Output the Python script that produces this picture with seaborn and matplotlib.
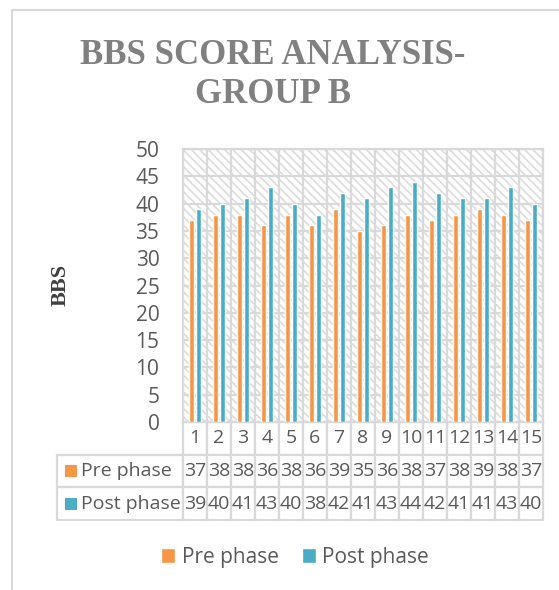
import matplotlib
matplotlib.use('Agg')
import matplotlib.pyplot as plt
import seaborn as sns
import pandas as pd
import numpy as np
from matplotlib.patches import Rectangle
from matplotlib.table import Table

participants = list(range(1, 16))
pre_phase = [37, 38, 38, 36, 38, 36, 39, 35, 36, 38, 37, 38, 39, 38, 37]
post_phase = [39, 40, 41, 43, 40, 38, 42, 41, 43, 44, 42, 41, 41, 43, 40]
series = ['Pre phase', 'Post phase']
colors = {'Pre phase': '#F79646', 'Post phase': '#4BACC6'}

df = pd.DataFrame({
    'participant': participants * 2,
    'phase': ['Pre phase'] * 15 + ['Post phase'] * 15,
    'BBS': pre_phase + post_phase,
})

sns.set_style('white')
plt.rcParams['font.family'] = ['Open Sans', 'DejaVu Sans']
grey = '#595959'
line_grey = '#D9D9D9'
fs = 14

W, H = 559, 590
fig = plt.figure(figsize=(W / 100, H / 100), dpi=100)
ax_l, ax_r, ax_t, ax_b = 183, 543, 149, 422
ax = fig.add_axes([ax_l / W, 1 - ax_b / H, (ax_r - ax_l) / W, (ax_b - ax_t) / H])

# hatched plot background
plt.rcParams['hatch.linewidth'] = 1.2
ax.add_patch(Rectangle((0, 0), 1, 1, transform=ax.transAxes, facecolor='white',
                       edgecolor='#DCDCDC', hatch='\\\\\\\\', lw=0, zorder=0))

sns.barplot(data=df, x='participant', y='BBS', hue='phase', hue_order=series,
            palette=colors, width=0.58, gap=0.2, ax=ax, legend=True,
            saturation=1, zorder=3)

ax.set_ylim(0, 50)
ax.set_yticks(range(0, 51, 5))
ax.set_xlim(-0.5, 14.5)
ax.set_xticks([])
ax.set_xticks(np.arange(-0.5, 15, 1), minor=True)
ax.grid(axis='y', which='major', color=line_grey, lw=1.6, zorder=1)
ax.grid(axis='x', which='minor', color=line_grey, lw=1.6, zorder=1)
ax.set_axisbelow(True)
ax.tick_params(axis='y', length=0, pad=17, labelsize=15, labelcolor=grey)
ax.tick_params(axis='x', which='both', length=0)
ax.set_xlabel('')
ax.set_ylabel('')
for s in ax.spines.values():
    s.set_color(line_grey)
    s.set_linewidth(1.6)

# data table under the axes (bbox covers the numeric columns only)
lab_w = 126 / (ax_r - ax_l)
tab_h = 98 / (ax_b - ax_t)
rh = tab_h / 3
cw = 1 / 15
tb = Table(ax, bbox=[0, -tab_h, 1, tab_h])
tb.auto_set_font_size(False)
for j, p in enumerate(participants):
    tb.add_cell(0, j, cw, rh, text=str(p), loc='center')
for i, (name, vals) in enumerate(zip(series, [pre_phase, post_phase]), start=1):
    c = tb.add_cell(i, -1, lab_w, rh, text=name, loc='left')
    c.PAD = 0.19
    for j, v in enumerate(vals):
        tb.add_cell(i, j, cw, rh, text=str(v), loc='center')
for cell in tb.get_celld().values():
    cell.set_edgecolor(line_grey)
    cell.set_linewidth(1.6)
    cell.get_text().set_color(grey)
    cell.get_text().set_fontsize(fs)
ax.add_table(tb)

sq_w = 12 / (ax_r - ax_l)
sq_h = 12 / (ax_b - ax_t)
for i, name in enumerate(series):
    yc = -(i + 1.5) * rh
    ax.add_patch(Rectangle(((65 - ax_l) / (ax_r - ax_l), yc - sq_h / 2), sq_w, sq_h,
                           transform=ax.transAxes, facecolor=colors[name],
                           lw=0, clip_on=False))

# legend
handles, labels = ax.get_legend_handles_labels()
ax.get_legend().remove()
fig.legend(handles, labels, loc='center', bbox_to_anchor=(295 / W, 1 - 557 / H),
           ncol=2, frameon=False, fontsize=15, labelcolor=grey,
           handlelength=0.7, handleheight=0.7, handletextpad=0.3,
           columnspacing=1.1)

# title and y label
fig.text(273 / W, 1 - 75 / H, 'BBS SCORE ANALYSIS-\nGROUP B', ha='center', va='center',
         fontsize=25, fontweight='bold', family='Liberation Serif', color='#808080',
         linespacing=1.25)
fig.text(61 / W, 1 - 285 / H, 'BBS', rotation=90, ha='center', va='center',
         fontsize=16, fontweight='bold', family='Liberation Serif', color='#404040')

# outer chart frame
fig.add_artist(Rectangle((12 / W, -0.1), 1.0, 1.1 - 10 / H, transform=fig.transFigure,
                         fill=False, edgecolor=line_grey, lw=1.5))

fig.savefig('out.png', dpi=100)
